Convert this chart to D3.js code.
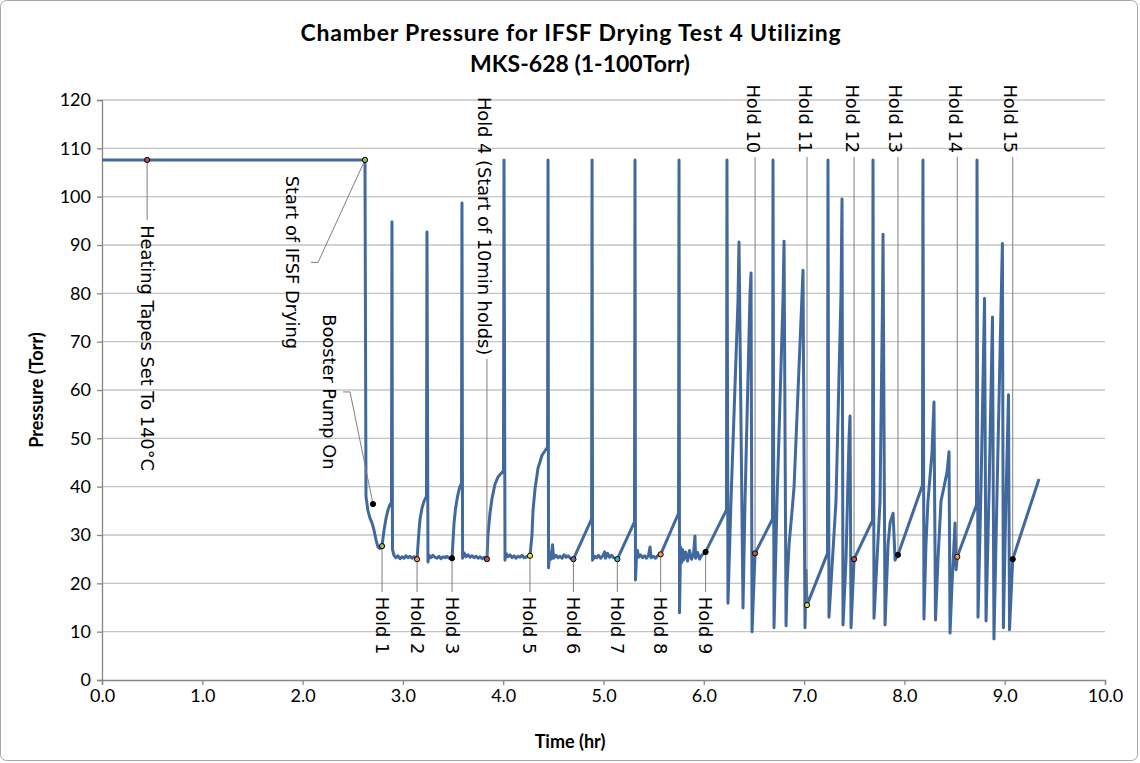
<!DOCTYPE html>
<html>
<head>
<meta charset="utf-8">
<script src="https://cdn.jsdelivr.net/npm/d3@7"></script>
<style>
  body { margin: 0; background: #fff; }
  svg { display: block; font-family: Lato, "Liberation Sans", sans-serif; }
</style>
</head>
<body>
<svg id="chart" width="1140" height="763"></svg>
<script>
// chamber pressure trace, [time (hr), pressure (Torr)]
var pressureTrace = [
  [0.000,107.6],[2.622,107.6],
  [2.632,38.0],[2.652,35.0],[2.672,33.5],[2.692,32.5],[2.712,31.0],[2.732,29.0],[2.752,27.5],[2.772,27.2],[2.792,27.8],
  [2.812,31.0],[2.832,33.5],[2.852,35.2],[2.871,36.3],[2.886,36.6],
  [2.891,94.8],[2.896,27.0],[2.911,25.8],[2.931,25.3],[2.951,25.7],[2.971,25.1],[2.991,25.5],[3.011,25.2],[3.031,25.7],[3.051,25.3],[3.071,25.6],[3.091,25.2],[3.111,25.5],[3.141,25.0],
  [3.151,28.0],[3.161,31.0],[3.171,33.3],[3.191,35.6],[3.211,37.0],[3.235,38.0],
  [3.240,92.7],[3.250,24.4],[3.260,25.8],[3.280,25.3],[3.300,25.8],[3.320,25.4],[3.340,25.2],[3.360,25.6],[3.380,25.1],[3.400,25.5],[3.420,25.3],[3.440,25.6],[3.460,25.2],[3.490,25.2],
  [3.500,29.0],[3.510,32.5],[3.525,35.5],[3.545,38.0],[3.565,39.8],[3.584,40.7],
  [3.589,98.7],[3.595,25.2],[3.610,26.3],[3.630,25.5],[3.650,25.9],[3.670,25.4],[3.690,25.7],[3.710,25.3],[3.730,25.6],[3.750,25.2],[3.770,25.5],[3.790,25.1],[3.810,25.4],[3.838,25.0],
  [3.848,30.0],[3.868,34.5],[3.888,37.5],[3.918,40.5],[3.948,42.0],[4.003,43.3],
  [4.008,107.6],[4.018,24.8],[4.028,26.2],[4.048,25.5],[4.068,25.9],[4.088,25.3],[4.108,25.7],[4.128,25.2],[4.148,25.6],[4.168,25.4],[4.188,25.8],[4.208,25.3],[4.237,25.5],[4.267,25.7],
  [4.287,30.0],[4.297,35.0],[4.317,39.5],[4.347,43.8],[4.387,46.5],[4.442,48.2],
  [4.447,107.6],[4.452,23.2],[4.462,26.5],[4.477,25.0],[4.492,28.0],[4.502,25.2],[4.527,25.8],[4.547,25.3],[4.567,25.6],[4.587,25.2],[4.607,25.9],[4.627,25.4],[4.647,25.7],[4.670,25.2],[4.700,25.0],
  [4.881,33.3],[4.886,107.6],[4.891,24.8],[4.911,25.6],[4.931,25.3],[4.951,25.8],[4.971,25.2],[4.991,25.6],[5.011,26.5],[5.021,25.2],[5.041,26.2],[5.061,25.4],[5.081,25.8],[5.101,25.3],[5.138,25.0],
  [5.309,32.7],[5.314,107.6],[5.319,20.7],[5.329,25.6],[5.339,26.8],[5.349,25.4],[5.369,25.9],[5.389,25.3],[5.409,25.7],[5.429,25.2],[5.449,25.8],[5.464,27.5],[5.474,25.3],[5.499,25.6],[5.519,25.2],[5.539,25.7],[5.570,26.0],
  [5.748,34.5],[5.753,107.6],[5.758,13.9],[5.768,27.5],[5.778,24.3],[5.788,27.0],[5.798,24.8],[5.818,26.5],[5.838,24.6],[5.858,26.8],[5.878,25.0],[5.898,26.2],[5.912,29.8],[5.918,25.2],[5.938,26.4],[5.958,25.0],[5.978,25.8],[6.018,26.5],
  [6.226,35.2],[6.231,107.6],[6.241,15.9],[6.271,37.0],[6.341,78.6],[6.351,90.6],[6.391,14.9],[6.411,37.0],[6.461,80.0],[6.471,84.2],[6.481,10.0],[6.511,26.2],
  [6.685,33.3],[6.690,107.6],[6.700,10.8],[6.730,37.0],[6.790,79.0],[6.800,90.8],[6.820,11.2],[6.830,20.0],[6.850,28.0],[6.880,35.0],[6.900,40.0],[6.980,80.0],[6.989,84.8],[7.009,10.8],[7.019,22.7],[7.029,15.5],
  [7.233,26.2],[7.238,107.6],[7.248,13.0],[7.318,37.0],[7.368,80.0],[7.378,99.5],[7.388,11.4],[7.418,25.0],[7.448,50.0],[7.458,54.6],[7.468,10.8],[7.498,25.0],
  [7.682,33.0],[7.687,107.6],[7.697,12.8],[7.757,37.0],[7.782,79.0],[7.787,92.2],[7.807,11.4],[7.837,28.0],[7.857,32.5],[7.887,34.5],[7.907,24.8],[7.936,25.9],
  [8.180,40.3],[8.185,107.6],[8.195,12.6],[8.215,28.0],[8.235,37.0],[8.275,47.0],[8.295,57.5],[8.310,12.4],[8.335,25.0],[8.365,37.0],[8.405,41.0],[8.425,43.0],[8.445,47.2],[8.455,9.7],[8.475,20.0],[8.505,32.5],[8.515,22.8],[8.527,25.5],
  [8.719,36.2],[8.724,107.6],[8.734,13.0],[8.764,40.0],[8.799,79.0],[8.814,12.2],[8.845,40.0],[8.878,75.1],[8.893,8.5],[8.930,45.0],[8.977,90.3],[8.987,10.8],[9.010,35.0],[9.038,59.0],[9.048,10.4],[9.080,25.0],
  [9.342,41.6]
];

// event markers on the trace
var eventNames = ["Heating Tapes Set To 140°C", "Start of IFSF Drying", "Booster Pump On",
  "Hold 1", "Hold 2", "Hold 3", "Hold 4 (Start of 10min holds)", "Hold 5", "Hold 6", "Hold 7",
  "Hold 8", "Hold 9", "Hold 10", "Hold 11", "Hold 12", "Hold 13", "Hold 14", "Hold 15"];
var eventTime = [0.45, 2.622, 2.702, 2.792, 3.141, 3.490, 3.838, 4.267, 4.700, 5.138,
  5.570, 6.018, 6.511, 7.029, 7.498, 7.936, 8.527, 9.080];
var eventPressure = [107.6, 107.6, 36.4, 27.7, 25.0, 25.2, 25.0, 25.7, 25.0, 25.0,
  26.0, 26.5, 26.2, 15.5, 25.0, 25.9, 25.5, 25.0];

var xTicks = [0, 1, 2, 3, 4, 5, 6, 7, 8, 9, 10];
var yTicks = [0, 10, 20, 30, 40, 50, 60, 70, 80, 90, 100, 110, 120];

var markerFills = ["#c0504d", "#9bbb59", "#000", "#9bbb59", "#f79646", "#000", "#c0504d", "#e3e34a",
  "#8064a2", "#4bacc6", "#f79646", "#000", "#c0504d", "#d4e157", "#c0504d", "#000", "#f79646", "#000"];

var W = 1140, H = 763;
var margin = { top: 100, right: 35, bottom: 83, left: 102 };

var svg = d3.select("#chart");

svg.append("rect")
    .attr("x", 0.5).attr("y", 0.5)
    .attr("width", W - 3).attr("height", H - 3)
    .attr("rx", 6)
    .attr("fill", "#fff")
    .attr("stroke", "#a6a6a6");

var x = d3.scaleLinear().domain([0, 10]).range([margin.left, W - margin.right]);
var y = d3.scaleLinear().domain([0, 120]).range([H - margin.bottom, margin.top]);

// gridlines
svg.append("g")
    .selectAll("line")
    .data(yTicks.filter(function (d) { return d > 0; }))
    .enter().append("line")
    .attr("x1", x(0)).attr("x2", x(10))
    .attr("y1", function (d) { return y(d); })
    .attr("y2", function (d) { return y(d); })
    .attr("stroke", "#c4c4c4")
    .attr("stroke-width", 1.3);

var yAxis = svg.append("g")
    .attr("transform", "translate(" + x(0) + ",0)")
    .call(d3.axisLeft(y).tickValues(yTicks).tickSize(5).tickPadding(6).tickFormat(d3.format("d")));

var xAxis = svg.append("g")
    .attr("transform", "translate(0," + y(0) + ")")
    .call(d3.axisBottom(x).tickValues(xTicks).tickSize(5).tickPadding(4).tickFormat(d3.format(".1f")));

[yAxis, xAxis].forEach(function (ax) {
    ax.select(".domain").attr("stroke", "#868686").attr("stroke-width", 1.3);
    ax.selectAll(".tick line").attr("stroke", "#868686").attr("stroke-width", 1.3);
    ax.selectAll("text").attr("font-size", 18).attr("fill", "#000")
        .style("font-family", "Lato, sans-serif");
});

// title
var title = svg.append("text")
    .attr("text-anchor", "middle")
    .attr("font-weight", "bold")
    .attr("font-size", 23);
title.append("tspan").attr("x", 571).attr("y", 41)
    .attr("letter-spacing", 0.8)
    .text("Chamber Pressure for IFSF Drying Test 4 Utilizing");
title.append("tspan").attr("x", 580).attr("y", 72).text("MKS-628 (1-100Torr)");

svg.append("text")
    .attr("x", 570).attr("y", 748)
    .attr("text-anchor", "middle")
    .attr("font-weight", "bold")
    .attr("font-size", 18)
    .text("Time (hr)");

svg.append("text")
    .attr("transform", "translate(36," + y(60) + ") rotate(-90)")
    .attr("text-anchor", "middle")
    .attr("dominant-baseline", "central")
    .attr("font-weight", "bold")
    .attr("font-size", 18)
    .text("Pressure (Torr)");

// trace
var line = d3.line()
    .x(function (d) { return x(d[0]); })
    .y(function (d) { return y(d[1]); });

svg.append("path")
    .datum(pressureTrace)
    .attr("fill", "none")
    .attr("stroke", "#41699d")
    .attr("stroke-width", 3)
    .attr("stroke-linejoin", "round")
    .attr("d", line);

// annotation leaders and labels (in data units)
var notes = svg.append("g").style("font-family", "'DejaVu Sans', sans-serif").attr("font-size", 17.8);

function leader(pts) {
    notes.append("path")
        .attr("d", d3.line()(pts.map(function (p) { return [x(p[0]), y(p[1])]; })))
        .attr("fill", "none")
        .attr("stroke", "#7f7f7f")
        .attr("stroke-width", 1);
}

function vlabel(t, p, anchor, txt) {
    notes.append("text")
        .attr("transform", "translate(" + x(t) + "," + y(p) + ") rotate(90)")
        .attr("text-anchor", anchor)
        .attr("dominant-baseline", "central")
        .attr("fill", "#000")
        .text(txt);
}

eventNames.forEach(function (name, i) {
    var t = eventTime[i], p = eventPressure[i];
    if (i === 0) {
        leader([[t, p], [t, 95.2]]);
        vlabel(t, 94.1, "start", name);
    } else if (i === 1) {
        leader([[t, p], [2.154, 86.4], [2.084, 86.4]]);
        vlabel(1.904, 86.4, "middle", name);
    } else if (i === 2) {
        leader([[t, p], [2.473, 59.6], [2.403, 59.6]]);
        vlabel(2.273, 59.6, "middle", name);
    } else if (i === 6) {
        leader([[t, p], [t, 66.4]]);
        vlabel(t - 0.02, 67.2, "end", name);
    } else if (i >= 12) {
        leader([[t, p], [t, 108.2]]);
        vlabel(t - 0.02, 109.0, "end", name);
    } else {
        leader([[t, p], [t, 18.2]]);
        vlabel(t, 17.2, "start", name);
    }
});

svg.append("g")
    .selectAll("circle")
    .data(eventNames)
    .enter().append("circle")
    .attr("cx", function (d, i) { return x(eventTime[i]); })
    .attr("cy", function (d, i) { return y(eventPressure[i]); })
    .attr("r", 2.6)
    .attr("fill", function (d, i) { return markerFills[i]; })
    .attr("stroke", "#000")
    .attr("stroke-width", 1);
</script>
</body>
</html>
